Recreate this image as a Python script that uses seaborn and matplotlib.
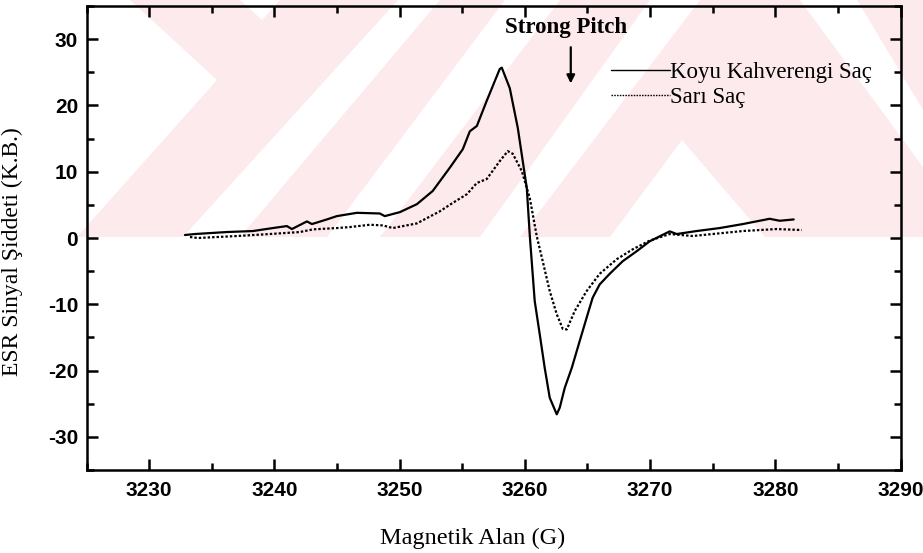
import numpy as np
import pandas as pd
import matplotlib
matplotlib.use("Agg")
import matplotlib.pyplot as plt
from matplotlib.patches import Polygon
from matplotlib.ticker import MultipleLocator
import seaborn as sns

# ---- data ----
field_dark = [3232.86, 3233.66, 3236.21, 3238.29, 3239.88, 3241.00, 3241.40, 3242.60,
              3243.00, 3244.19, 3244.99, 3246.59, 3248.42, 3248.82, 3250.02, 3251.38,
              3252.65, 3254.01, 3255.05, 3255.61, 3256.17, 3256.96, 3258.00, 3258.16,
              3258.80, 3259.44, 3260.16, 3260.40, 3260.79, 3261.19, 3261.59, 3261.99,
              3262.55, 3262.79, 3263.19, 3263.75, 3264.39, 3265.02, 3265.42, 3265.98,
              3266.78, 3267.82, 3268.93, 3269.97, 3271.57, 3272.13, 3273.72, 3275.56,
              3277.40, 3279.55, 3280.35, 3281.47]
signal_dark = [0.45, 0.6, 0.9, 1.05, 1.5, 1.8, 1.35, 2.5,
               2.1, 2.8, 3.3, 3.8, 3.7, 3.3, 3.9, 5.1,
               7.1, 10.6, 13.4, 16.1, 16.9, 20.7, 25.5, 25.7,
               22.6, 16.6, 7.5, 0.3, -9.5, -14.5, -19.6, -24.1,
               -26.6, -25.6, -22.6, -19.6, -15.5, -11.5, -9.0, -7.0,
               -5.4, -3.5, -2.0, -0.5, 1.0, 0.6, 1.05, 1.5,
               2.1, 2.9, 2.6, 2.8]

field_blond = [3233.26, 3233.90, 3237.01, 3239.64, 3242.04, 3243.08, 3244.99, 3246.03,
               3247.63, 3248.66, 3249.46, 3251.38, 3253.19, 3254.25, 3255.37, 3256.17,
               3256.96, 3258.00, 3258.64, 3259.04, 3259.76, 3260.40, 3260.95, 3261.43,
               3261.99, 3262.55, 3263.03, 3263.35, 3263.99, 3264.94, 3265.98, 3267.34,
               3268.62, 3269.97, 3271.57, 3273.40, 3277.40, 3280.11, 3282.11]
signal_blond = [0.15, 0.0, 0.3, 0.6, 0.9, 1.3, 1.5, 1.65,
                2.0, 1.9, 1.5, 2.2, 4.0, 5.3, 6.6, 8.3,
                8.9, 11.6, 13.1, 12.7, 10.1, 6.0, 0.3, -3.5,
                -8.0, -11.5, -13.7, -13.8, -11.0, -8.0, -5.4, -3.2,
                -1.7, -0.4, 0.6, 0.3, 1.05, 1.35, 1.2]

series_names = ["Koyu Kahverengi Saç", "Sarı Saç"]
x_ticks = [3230, 3240, 3250, 3260, 3270, 3280, 3290]
y_ticks = [-30, -20, -10, 0, 10, 20, 30]
annotation_text = "Strong Pitch"
annotation_field = 3263.67
x_label = "Magnetik Alan (G)"
y_label = "ESR Sinyal Şiddeti (K.B.)"

df = pd.concat([
    pd.DataFrame({"field": field_dark, "signal": signal_dark, "sample": series_names[0]}),
    pd.DataFrame({"field": field_blond, "signal": signal_blond, "sample": series_names[1]}),
], ignore_index=True)

# ---- style ----
sns.set_style("ticks")
plt.rcParams.update({
    "axes.unicode_minus": False,
    "text.color": "black",
    "axes.labelcolor": "black",
    "xtick.color": "black",
    "ytick.color": "black",
})
serif = ["Liberation Serif", "DejaVu Serif"]
narrow = ["Liberation Sans Narrow", "Liberation Sans", "DejaVu Sans"]

W, H = 923, 553
fig = plt.figure(figsize=(W / 100, H / 100), dpi=100)

# faint background watermark (decorative), drawn beneath the axes
def P(x, y):
    return (x / W, 1 - y / H)

pink = "#fdeaed"
fig.patches.append(Polygon([P(0, 0), P(W, 0), P(W, 237), P(0, 237)], closed=True,
                           transform=fig.transFigure, facecolor=pink, edgecolor="none",
                           zorder=-10))
white_shapes = [
    [(0, 0), (130, 0), (217, 80), (77, 237), (0, 237)],
    [(240, 0), (280, 0), (262, 20)],
    [(183, 237), (240, 237), (440, 0), (398, 0)],
    [(327, 237), (380, 237), (560, 0), (505, 0)],
    [(480, 237), (520, 237), (700, 0), (650, 0)],
    [(610, 237), (682, 140), (765, 237)],
    [(800, 0), (857, 0), (923, 110), (923, 167)],
]
for shp in white_shapes:
    fig.patches.append(Polygon([P(a, b) for a, b in shp], closed=True,
                               transform=fig.transFigure, facecolor="white",
                               edgecolor="none", zorder=-9))

ax = fig.add_axes([86.5 / W, 1 - 470 / H, (900.5 - 86.5) / W, (470 - 6) / H])
ax.set_facecolor("none")
ax.patch.set_alpha(0)

sns.lineplot(data=df, x="field", y="signal", hue="sample", style="sample",
             palette={series_names[0]: "black", series_names[1]: "black"},
             dashes={series_names[0]: "", series_names[1]: (1.1, 0.9)},
             sort=False, estimator=None, linewidth=1.6, ax=ax)

ax.set_xlim(3225, 3290)
ax.set_ylim(-35, 35)
ax.set_xticks(x_ticks)
ax.set_yticks(y_ticks)
ax.xaxis.set_minor_locator(MultipleLocator(5))
ax.yaxis.set_minor_locator(MultipleLocator(5))
ax.tick_params(which="both", direction="in", top=True, right=True, width=1.8, color="black")
ax.tick_params(which="major", length=8)
ax.tick_params(which="minor", length=5)
ax.tick_params(axis="x", which="major", pad=8)
ax.tick_params(axis="y", which="major", pad=6)
for lab in ax.get_xticklabels() + ax.get_yticklabels():
    lab.set_family(narrow)
    lab.set_fontweight("bold")
    lab.set_fontsize(15)
    lab.set_color("black")
for sp in ax.spines.values():
    sp.set_linewidth(1.8)
    sp.set_color("black")

ax.set_xlabel(x_label, family=serif, fontsize=17.5, color="black")
ax.xaxis.set_label_coords(0.474, -0.125)
ax.set_ylabel(y_label, family=serif, fontsize=17, color="black")
ax.yaxis.set_label_coords(-0.078, 0.47)

# annotation
ax.annotate("", xy=(annotation_field, 22.9), xytext=(annotation_field, 29.2),
            arrowprops=dict(arrowstyle="-|>", color="black", lw=1.6, mutation_scale=12))
ax.text(annotation_field - 0.35, 31.7, annotation_text, family=serif, fontweight="bold",
        fontsize=16.5, ha="center", va="center", color="black")

leg = ax.legend(loc="upper left", bbox_to_anchor=(0.630, 0.905), frameon=False,
                handlelength=2.6, handletextpad=0.0, borderpad=0, labelspacing=0.2,
                prop={"family": serif, "size": 16.5})
for line in leg.get_lines():
    line.set_linewidth(1.0)
for t in leg.get_texts():
    t.set_color("black")

fig.savefig("out.png", dpi=100)
